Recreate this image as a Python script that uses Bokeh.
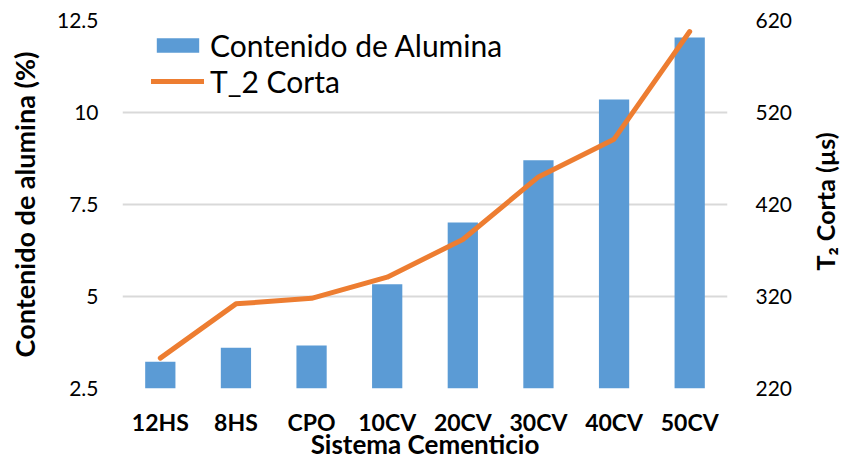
import math
from bokeh.plotting import figure
from bokeh.layouts import row
from bokeh.models import Range1d, LinearAxis, FixedTicker, ColumnDataSource, Legend, LegendItem
from bokeh.core.properties import value
from bokeh.embed import file_html
from bokeh.resources import INLINE

categorias = ["12HS", "8HS", "CPO", "10CV", "20CV", "30CV", "40CV", "50CV"]
alumina = [3.23, 3.61, 3.67, 5.33, 7.01, 8.70, 10.35, 12.04]
t2_corta = [253, 312, 318, 341, 382, 450, 491, 608]
left_ticks = [2.5, 5, 7.5, 10, 12.5]
left_labels = ["2.5", "5", "7.5", "10", "12.5"]
right_ticks = [220, 320, 420, 520, 620]
right_title = "T\u2082 Corta (\u00b5s)"

FONT = "Lato"
src = ColumnDataSource(dict(cat=categorias, al=alumina, t2=t2_corta))

p = figure(x_range=categorias, y_range=Range1d(2.5, 12.5), width=806, height=462,
           output_backend="svg", toolbar_location=None,
           min_border_left=122, min_border_right=79, min_border_top=20, min_border_bottom=74)
p.outline_line_color = None
p.extra_y_ranges = {"t2": Range1d(220, 620)}

bars = p.vbar(x="cat", top="al", bottom=2.5, width=0.4, source=src,
              fill_color="#5b9bd5", line_color=None)
line = p.line(x="cat", y="t2", source=src, y_range_name="t2",
              line_color="#ed7d31", line_width=5, line_cap="round", line_join="round")

p.xgrid.grid_line_color = None
p.ygrid.grid_line_color = "#d9d9d9"
p.ygrid.grid_line_width = 2
p.ygrid.ticker = FixedTicker(ticks=left_ticks)

ya = p.yaxis[0]
ya.ticker = FixedTicker(ticks=left_ticks)
ya.major_label_overrides = {t: l for t, l in zip(left_ticks, left_labels)}
ya.axis_label = "Contenido de alumina (%)"

ra = LinearAxis(y_range_name="t2", ticker=FixedTicker(ticks=right_ticks))
p.add_layout(ra, "right")

xa = p.xaxis[0]
xa.axis_label = "Sistema Cementicio"
for ax in [ya, ra, xa]:
    ax.axis_line_color = None
    ax.major_tick_line_color = None
    ax.minor_tick_line_color = None
    ax.major_tick_out = 0
    ax.major_tick_in = 0
    ax.minor_tick_out = 0
    ax.major_label_text_font = FONT
    ax.major_label_text_font_size = "21px"
    ax.major_label_text_color = "#000000"
    ax.axis_label_text_font = FONT
    ax.axis_label_text_font_style = "bold"
    ax.axis_label_text_color = "#000000"

ya.major_label_standoff = 24
ya.axis_label_text_font_size = "27px"
ya.axis_label_standoff = 13
ra.major_label_standoff = 28
xa.major_label_text_font_style = "bold"
xa.major_label_text_font_size = "23px"
xa.major_label_standoff = 19
xa.axis_label_text_font_size = "26px"
xa.axis_label_standoff = -11

legend = Legend(items=[LegendItem(label="Contenido de Alumina", renderers=[bars]),
                       LegendItem(label="T_2 Corta", renderers=[line])],
                location=(29, 289))
legend.border_line_color = None
legend.background_fill_alpha = 0
legend.padding = 0
legend.margin = 0
legend.label_text_font = FONT
legend.label_text_font_size = "30px"
legend.label_text_color = "#000000"
legend.glyph_width = 53
legend.glyph_height = 18
legend.label_height = 30
legend.spacing = 0
legend.label_standoff = 6
p.add_layout(legend, "center")

# narrow strip holding the right-hand axis title (reads bottom to top);
# its frame is aligned with the main plot area (368 px tall)
p2 = figure(width=36, height=462, x_range=Range1d(0, 36), y_range=Range1d(0, 368),
            output_backend="svg", toolbar_location=None, x_axis_type=None, y_axis_type=None,
            min_border=0, min_border_left=0, min_border_right=0,
            min_border_top=20, min_border_bottom=74)
p2.outline_line_color = None
p2.grid.visible = False
p2.text(x=[18], y=[187], text=[right_title], angle=math.pi / 2,
        text_align="center", text_baseline="middle",
        text_font=value(FONT), text_font_size="25px", text_font_style="bold",
        text_color="#000000")

layout = row(p, p2, spacing=0)
open("out.html", "w").write(file_html(layout, INLINE))
